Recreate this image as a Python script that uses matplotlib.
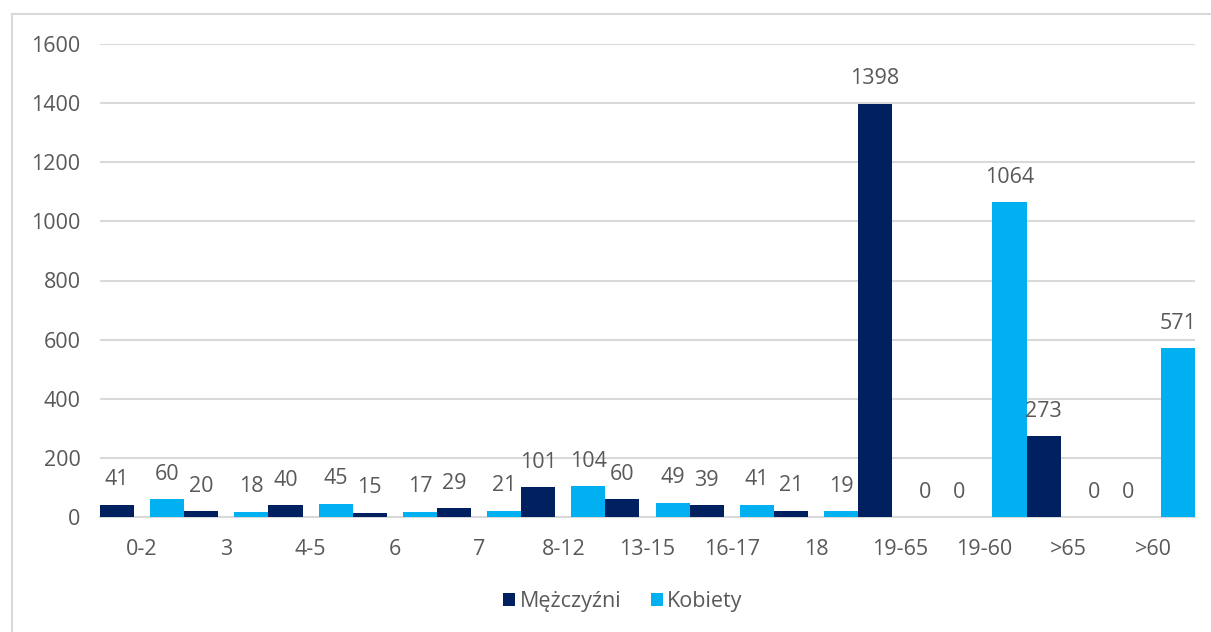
import matplotlib

matplotlib.use("Agg")
import matplotlib.pyplot as plt
from matplotlib.lines import Line2D
import numpy as np

categories = ["0-2", "3", "4-5", "6", "7", "8-12", "13-15", "16-17", "18",
              "19-65", "19-60", ">65", ">60"]
men = [41, 20, 40, 15, 29, 101, 60, 39, 21, 1398, 0, 273, 0]
women = [60, 18, 45, 17, 21, 104, 49, 41, 19, 0, 1064, 0, 571]
yticks = [0, 200, 400, 600, 800, 1000, 1200, 1400, 1600]

NAVY = "#002060"
LIGHT = "#00B0F0"
TEXT = "#595959"
GRID = "#D9D9D9"

plt.rcParams["font.family"] = ["Open Sans", "DejaVu Sans"]

fig = plt.figure(figsize=(12.11, 6.32), dpi=100)
ax = fig.add_axes([100 / 1211, 1 - 517 / 632, 1095 / 1211, 473 / 632])

x = np.arange(len(categories))
w = 0.405
b1 = ax.bar(x - 0.5 + w / 2, men, width=w, color=NAVY, label="Mężczyźni", zorder=3)
b2 = ax.bar(x + 0.5 - w / 2, women, width=w, color=LIGHT, label="Kobiety", zorder=3)

for bars, vals in ((b1, men), (b2, women)):
    for r, v in zip(bars, vals):
        ax.annotate(str(v), (r.get_x() + r.get_width() / 2, v),
                    xytext=(0, 18), textcoords="offset points",
                    ha="center", va="center", fontsize=15.5, color=TEXT)

ax.set_xlim(-0.5, len(categories) - 0.5)
ax.set_ylim(0, 1600)
ax.set_yticks(yticks)
ax.set_xticks(x)
ax.set_xticklabels(categories)
ax.tick_params(axis="both", length=0, labelsize=15.5, labelcolor=TEXT)
ax.tick_params(axis="x", pad=16)
ax.tick_params(axis="y", pad=14)
ax.grid(axis="y", color=GRID, linewidth=1.5, zorder=0)
for s in ("top", "right", "left"):
    ax.spines[s].set_visible(False)
ax.spines["bottom"].set_color(GRID)
ax.spines["bottom"].set_linewidth(1.5)

ax.legend(loc="center", bbox_to_anchor=(623 / 1211, 1 - 602 / 632),
          bbox_transform=fig.transFigure, ncol=2, frameon=False,
          fontsize=15.5, labelcolor=TEXT, handlelength=0.55, handleheight=0.55,
          handletextpad=0.2, columnspacing=1.4)

# outer chart border (left and top only visible in the crop)
fig.add_artist(Line2D([12 / 1211, 12 / 1211], [0, 1 - 14 / 632],
                      transform=fig.transFigure, color=GRID, linewidth=1.5))
fig.add_artist(Line2D([12 / 1211, 1], [1 - 14 / 632, 1 - 14 / 632],
                      transform=fig.transFigure, color=GRID, linewidth=1.5))

fig.savefig("out.png", dpi=100)
